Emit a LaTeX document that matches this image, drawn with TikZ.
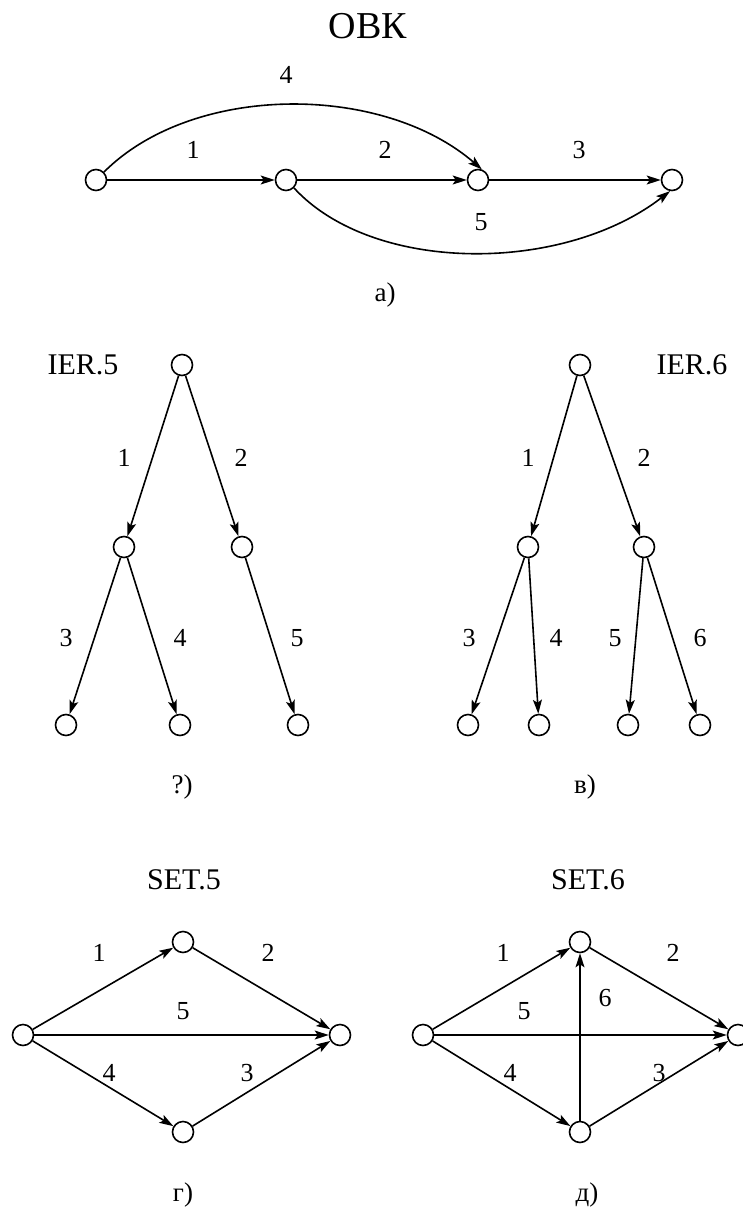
\documentclass[tikz,border=0pt]{standalone}
\usepackage{fontspec}
\setmainfont{Liberation Serif}
\usetikzlibrary{arrows.meta}
\tikzset{
  vtx/.style={circle, draw, line width=1.6pt, minimum size=21pt, inner sep=0pt, fill=white},
  edge/.style={line width=1.6pt, -{Stealth[length=14pt,width=9pt,inset=3pt]}},
  lbl/.style={font=\fontsize{26}{26}\selectfont, inner sep=0pt},
  captxt/.style={font=\fontsize{27}{27}\selectfont, inner sep=0pt},
  ttl/.style={font=\fontsize{30}{30}\selectfont, inner sep=0pt}
}
\begin{document}
\begin{tikzpicture}[x=1pt,y=-1pt]
\useasboundingbox (0,0) rectangle (743,1210);
% ---- part a
\node[font=\fontsize{38}{38}\selectfont, inner sep=0pt, anchor=base] (title) at (368,38) {ОВК};
\node[vtx] (A1) at (96,180) {};
\node[vtx] (A2) at (286,180) {};
\node[vtx] (A3) at (478,180) {};
\node[vtx] (A4) at (672,180) {};
\draw[edge] (A1) -- (A2);
\draw[edge] (A2) -- (A3);
\draw[edge] (A3) -- (A4);
\draw[edge] (A1.45) .. controls (193,83) and (382,83) .. (A3.70);
\draw[edge] (A2.-45) .. controls (373,274) and (563,274) .. (A4.-100);
\node[lbl] (la4) at (286,75) {4};
\node[lbl] (la1) at (193,150) {1};
\node[lbl] (la2) at (385,150) {2};
\node[lbl] (la3) at (579,150) {3};
\node[lbl] (la5) at (481,222) {5};
\node[captxt] (capa) at (385,295) {а)};
% ---- part b (IER.5)
\node[ttl] (ier5) at (83,365) {IER.5};
\node[vtx] (r1) at (182,365) {};
\node[vtx] (b1) at (124,547) {};
\node[vtx] (b2) at (242,547) {};
\node[vtx] (c1) at (66,725) {};
\node[vtx] (c2) at (180,725) {};
\node[vtx] (c3) at (298,725) {};
\draw[edge] (r1) -- (b1);
\draw[edge] (r1) -- (b2);
\draw[edge] (b1) -- (c1);
\draw[edge] (b1) -- (c2);
\draw[edge] (b2) -- (c3);
\node[lbl] (lb1) at (124,458) {1};
\node[lbl] (lb2) at (241,458) {2};
\node[lbl] (lb3) at (66,638) {3};
\node[lbl] (lb4) at (180,638) {4};
\node[lbl] (lb5) at (297,638) {5};
\node[captxt] (capb) at (182,787) {?)};
% ---- part v (IER.6)
\node[ttl] (ier6) at (692,365) {IER.6};
\node[vtx] (r2) at (580,365) {};
\node[vtx] (d1) at (528,547) {};
\node[vtx] (d2) at (644,547) {};
\node[vtx] (e1) at (468,725) {};
\node[vtx] (e2) at (539,725) {};
\node[vtx] (e3) at (628,725) {};
\node[vtx] (e4) at (700,725) {};
\draw[edge] (r2) -- (d1);
\draw[edge] (r2) -- (d2);
\draw[edge] (d1) -- (e1);
\draw[edge] (d1) -- (e2);
\draw[edge] (d2) -- (e3);
\draw[edge] (d2) -- (e4);
\node[lbl] (lv1) at (528,458) {1};
\node[lbl] (lv2) at (644,458) {2};
\node[lbl] (lv3) at (469,638) {3};
\node[lbl] (lv4) at (556,638) {4};
\node[lbl] (lv5) at (615,638) {5};
\node[lbl] (lv6) at (700,638) {6};
\node[captxt] (capv) at (585,787) {в)};
% ---- part g (SET.5)
\node[ttl] (set5) at (184,880) {SET.5};
\node[vtx] (gL) at (23,1035) {};
\node[vtx] (gT) at (183,942) {};
\node[vtx] (gB) at (183,1132) {};
\node[vtx] (gR) at (340,1035) {};
\draw[edge] (gL) -- (gT);
\draw[edge] (gT) -- (gR);
\draw[edge] (gL) -- (gR);
\draw[edge] (gL) -- (gB);
\draw[edge] (gB) -- (gR);
\node[lbl] (lg1) at (99,953) {1};
\node[lbl] (lg2) at (268,953) {2};
\node[lbl] (lg5) at (183,1011) {5};
\node[lbl] (lg4) at (109,1073) {4};
\node[lbl] (lg3) at (247,1073) {3};
\node[captxt] (capg) at (183,1195) {г)};
% ---- part d (SET.6)
\node[ttl] (set6) at (588,880) {SET.6};
\node[vtx] (hL) at (423,1035) {};
\node[vtx] (hT) at (580,942) {};
\node[vtx] (hB) at (580,1132) {};
\node[vtx] (hR) at (738,1035) {};
\draw[edge] (hL) -- (hT);
\draw[edge] (hT) -- (hR);
\draw[edge] (hL) -- (hR);
\draw[edge] (hL) -- (hB);
\draw[edge] (hB) -- (hR);
\draw[edge] (hB) -- (hT);
\node[lbl] (lh1) at (503,953) {1};
\node[lbl] (lh2) at (673,953) {2};
\node[lbl] (lh5) at (524,1011) {5};
\node[lbl] (lh6) at (605,998) {6};
\node[lbl] (lh4) at (510,1073) {4};
\node[lbl] (lh3) at (659,1073) {3};
\node[captxt] (capd) at (587,1195) {д)};
\end{tikzpicture}
\end{document}
